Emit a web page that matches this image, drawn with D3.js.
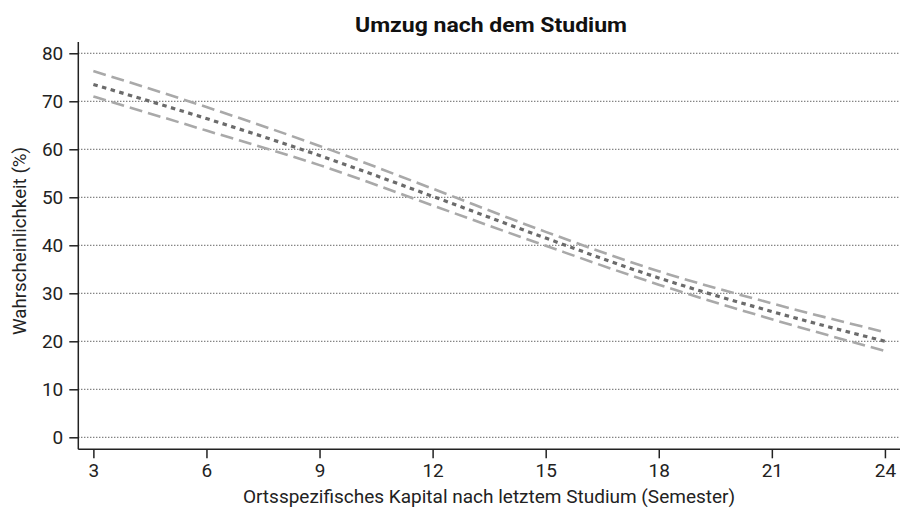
<!DOCTYPE html>
<html>
<head>
<meta charset="utf-8">
<script src="https://cdn.jsdelivr.net/npm/d3@7"></script>
<style>
  html, body { margin: 0; padding: 0; background: #fff; }
  svg { display: block; font-family: Roboto, "Liberation Sans", sans-serif; }
</style>
</head>
<body>
<svg id="chart" width="902" height="508"></svg>
<script>
// Semester of place-specific capital after the last study period
const semester = [3, 6, 9, 12, 15, 18, 21, 24];
// Predicted probability (%) of moving after graduation, with 95% bounds
const estimate = [73.5, 66.4, 58.7, 50.2, 41.5, 33.2, 26.2, 20.0];
const upperCI  = [76.3, 68.8, 60.7, 51.8, 42.8, 34.6, 27.9, 21.9];
const lowerCI  = [71.0, 63.9, 56.7, 48.3, 39.9, 31.8, 24.6, 18.0];
const xTicks = [3, 6, 9, 12, 15, 18, 21, 24];
const yTicks = [0, 10, 20, 30, 40, 50, 60, 70, 80];

const svg = d3.select("#chart");
const plotLeft = 78.3, plotRight = 900, plotTop = 42, plotBottom = 449.3;

const x = d3.scaleLinear().domain([2.6, 24.4]).range([plotLeft, plotRight]);
const y = d3.scaleLinear().domain([-2.5, 82.35]).range([plotBottom, plotTop]);

// Horizontal dotted gridlines
svg.append("g").selectAll("line").data(yTicks).join("line")
  .attr("x1", plotLeft).attr("x2", plotRight)
  .attr("y1", d => y(d)).attr("y2", d => y(d))
  .attr("stroke", "#222").attr("stroke-width", 1)
  .attr("stroke-dasharray", "1,2");

// Axes
const yAxis = svg.append("g").attr("transform", `translate(${plotLeft},0)`)
  .call(d3.axisLeft(y).tickValues(yTicks).tickSize(9).tickPadding(6).tickSizeOuter(0));
const xAxis = svg.append("g").attr("transform", `translate(0,${plotBottom})`)
  .call(d3.axisBottom(x).tickValues(xTicks).tickSize(9).tickPadding(5).tickSizeOuter(0));

[yAxis, xAxis].forEach(g => {
  g.select(".domain").attr("stroke", "#222").attr("stroke-width", 1.5);
  g.selectAll(".tick line").attr("stroke", "#222").attr("stroke-width", 1.5);
  g.selectAll(".tick text").attr("fill", "#222")
    .style("font-size", "19px").style("font-family", "Roboto, 'Liberation Sans', sans-serif");
});
yAxis.select(".domain").attr("d", `M0,${plotBottom}V${plotTop}`);
xAxis.select(".domain").attr("d", `M${plotLeft},0H${plotRight}`);

const line = d3.line().x((d, i) => x(semester[i])).y(d => y(d)).curve(d3.curveMonotoneX);

// Confidence bounds
[upperCI, lowerCI].forEach(s => {
  svg.append("path").datum(s)
    .attr("d", line)
    .attr("fill", "none")
    .attr("stroke", "#a9a9a9")
    .attr("stroke-width", 2.6)
    .attr("stroke-dasharray", "13,6");
});

// Point estimate
svg.append("path").datum(estimate)
  .attr("d", line)
  .attr("fill", "none")
  .attr("stroke", "#6b6b6b")
  .attr("stroke-width", 3.2)
  .attr("stroke-dasharray", "4.5,4.5");

// Title
svg.append("text")
  .attr("x", 491).attr("y", 31.5)
  .attr("text-anchor", "middle")
  .attr("textLength", 272).attr("lengthAdjust", "spacingAndGlyphs")
  .style("font-size", "21px").style("font-weight", "bold")
  .attr("fill", "#111")
  .text("Umzug nach dem Studium");

// Axis titles
svg.append("text")
  .attr("x", 489).attr("y", 503)
  .attr("text-anchor", "middle")
  .style("font-size", "19px")
  .attr("fill", "#222")
  .text("Ortsspezifisches Kapital nach letztem Studium (Semester)");

svg.append("text")
  .attr("transform", "translate(26,241) rotate(-90)")
  .attr("text-anchor", "middle")
  .attr("textLength", 188).attr("lengthAdjust", "spacingAndGlyphs")
  .style("font-size", "17.5px")
  .attr("fill", "#222")
  .text("Wahrscheinlichkeit (%)");
</script>
</body>
</html>
